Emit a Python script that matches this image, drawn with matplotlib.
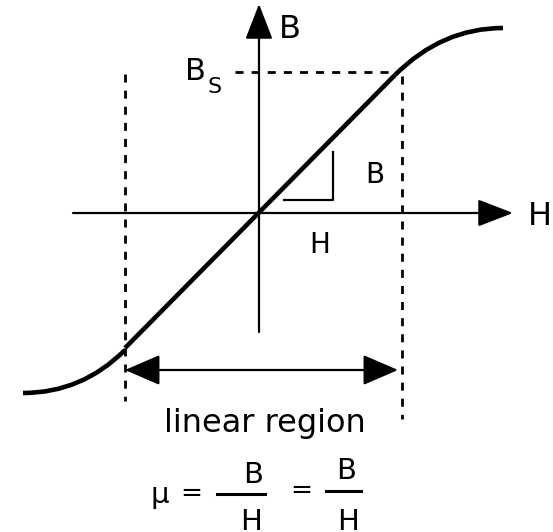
import matplotlib
matplotlib.use("Agg")
import matplotlib.pyplot as plt
from matplotlib.path import Path
from matplotlib.patches import PathPatch

# B-H curve (pixel-ish units, origin at the axes crossing)
lin_H = [-134, 136]
lin_B = [-135, 138]
# knee curves: start of bend, tangent crossing, end point
upper_H = [136, 183, 244]
upper_B = [138, 185, 185]
lower_H = [-134, -177, -236]
lower_B = [-137, -180, -180]

# saturation level and linear region limits
B_s = 141
H_left = -134
H_right = 143

fig = plt.figure(figsize=(5.53, 5.32), dpi=100)
ax = fig.add_axes([0, 0, 1, 1])
ax.set_xlim(-259, 294)
ax.set_ylim(-319, 213)
ax.axis("off")

# axes with arrow heads
arrow_kw = dict(arrowstyle="-|>,head_length=2.2,head_width=0.85", mutation_scale=10,
                lw=1.6, color="black", shrinkA=0, shrinkB=0)
ax.annotate("", xy=(254, 0), xytext=(-186, 0), arrowprops=arrow_kw)
ax.annotate("", xy=(0, 209), xytext=(0, -119), arrowprops=arrow_kw)
ax.text(281, -12, "H", fontsize=23, ha="center", va="baseline")
ax.text(31, 175, "B", fontsize=23, ha="center", va="baseline")

# the curve
ax.plot(lin_H, lin_B, color="black", lw=3.3, solid_capstyle="butt")
for hh, bb in [(upper_H, upper_B), (lower_H, lower_B)]:
    path = Path(list(zip(hh, bb)), [Path.MOVETO, Path.CURVE3, Path.CURVE3])
    ax.add_patch(PathPatch(path, facecolor="none", edgecolor="black", lw=3.3,
                           capstyle="butt"))

# dashed guides
dash = (0, (2.9, 2.9))
ax.plot([-24, H_right - 7], [B_s, B_s], color="black", lw=2, linestyle=dash)
ax.plot([H_left, H_left], [139, -188], color="black", lw=2, linestyle=dash)
ax.plot([H_right, H_right], [137, -206], color="black", lw=2, linestyle=dash)
ax.text(-64, 133, "B", fontsize=22, ha="center", va="baseline")
ax.text(-44, 120, "S", fontsize=16, ha="center", va="baseline")

# slope triangle
ax.plot([25, 74, 74], [13, 13, 61], color="black", lw=1.6)
ax.text(116, 30, "B", fontsize=20, ha="center", va="baseline")
ax.text(61, -40, "H", fontsize=20, ha="center", va="baseline")

# linear region arrow
ax.annotate("", xy=(139, -157), xytext=(H_left, -157),
            arrowprops=dict(arrowstyle="<|-|>,head_length=2.2,head_width=0.95",
                            mutation_scale=10, lw=1.6, color="black",
                            shrinkA=0, shrinkB=0))
ax.text(6, -219, "linear region", fontsize=23, ha="center", va="baseline")

# permeability formula
ax.text(-99, -290, "μ", fontsize=21, ha="center", va="baseline")
ax.text(-68, -288, "=", fontsize=19, ha="center", va="baseline")
ax.plot([-42, 6], [-281, -281], color="black", lw=2.2)
ax.text(-6, -270, "B", fontsize=21, ha="center", va="baseline")
ax.text(-8, -317, "H", fontsize=21, ha="center", va="baseline")
ax.text(42, -285, "=", fontsize=19, ha="center", va="baseline")
ax.plot([67, 102], [-278, -278], color="black", lw=2.2)
ax.text(87, -266, "B", fontsize=21, ha="center", va="baseline")
ax.text(89, -317, "H", fontsize=21, ha="center", va="baseline")

fig.savefig("out.png", dpi=100)
